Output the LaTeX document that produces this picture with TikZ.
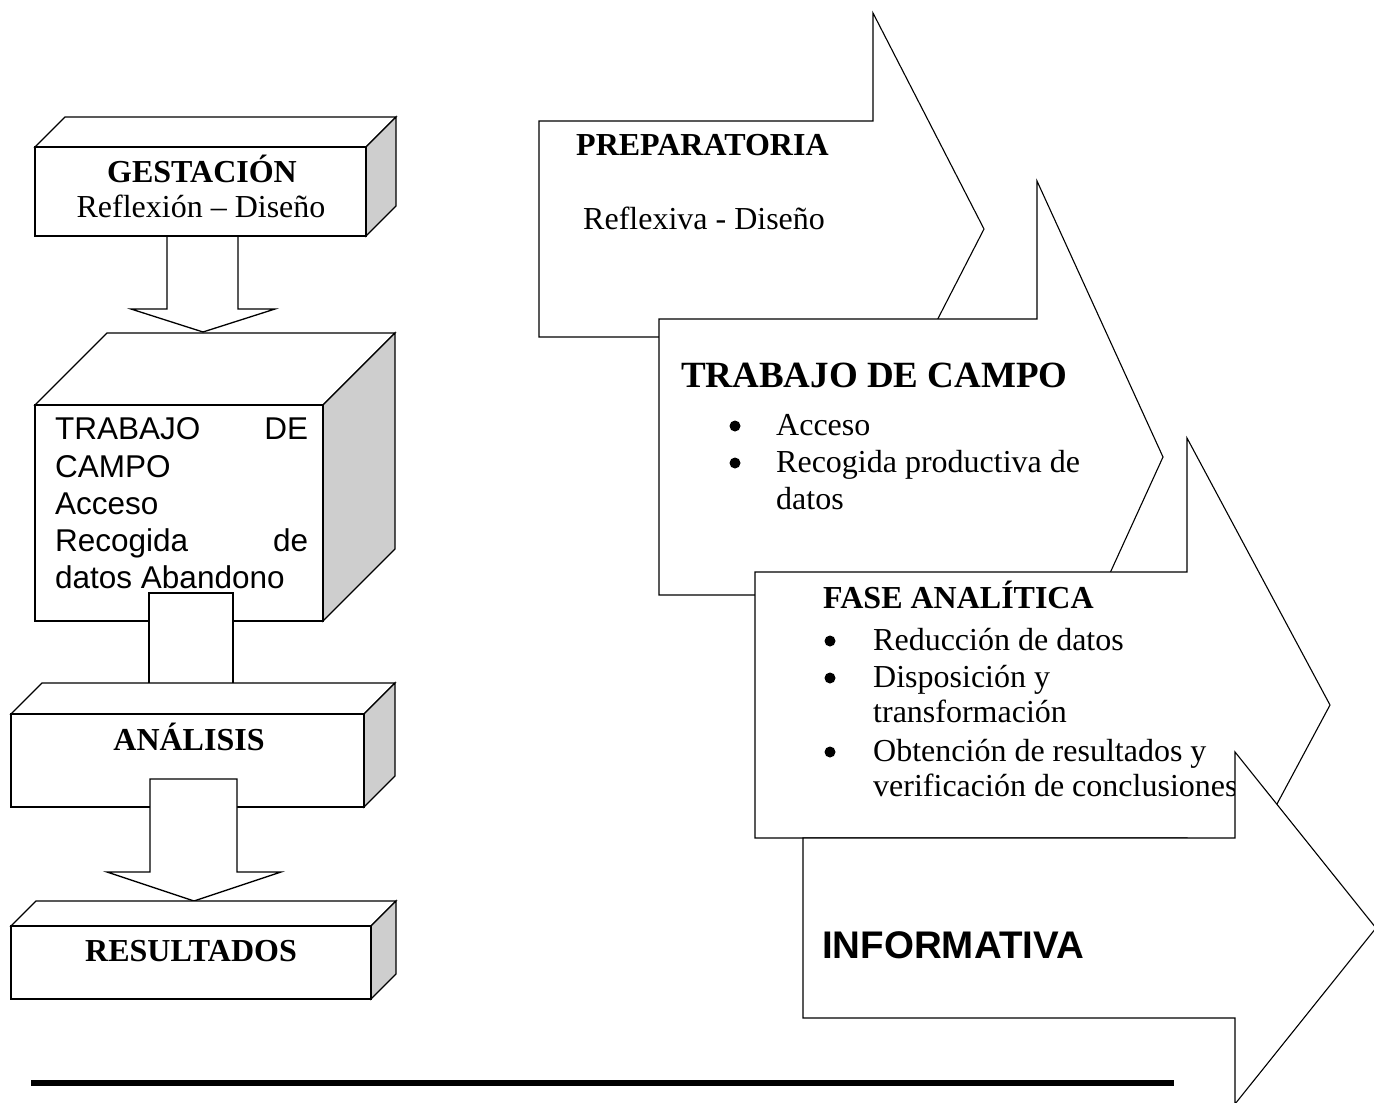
\documentclass[tikz,border=0pt]{standalone}
\usepackage{fontspec}
\setmainfont{Liberation Serif}
\newfontfamily\arialf{Liberation Sans}
\definecolor{sidegray}{RGB}{206,206,206}
\tikzset{
  box/.style={draw, line width=1.3pt, fill=white, line join=miter},
  side/.style={draw, line width=1.3pt, fill=sidegray, line join=miter},
  blk/.style={draw, line width=1.1pt, fill=white, line join=miter},
  lbl/.style={inner sep=0pt, anchor=base west},
  clbl/.style={inner sep=0pt, anchor=base},
  dot/.style={circle, fill=black, inner sep=0pt, minimum size=11pt},
  tnr/.style={font=\fontsize{32}{38}\selectfont},
  tnrb/.style={font=\fontsize{32}{38}\selectfont\bfseries},
  tnrbig/.style={font=\fontsize{37}{44}\selectfont\bfseries},
  ari/.style={font=\arialf\fontsize{31.5}{37}\selectfont},
  arib/.style={font=\arialf\fontsize{38.5}{46}\selectfont\bfseries},
}
\newcommand\cubebox[5]{%
  \fill[white] (#1,#2) rectangle (#3,#4);
  \draw[box] (#1,#2) -- (#1+#5,#2-#5) -- (#3+#5,#2-#5) -- (#3,#2) -- cycle;
  \draw[side] (#3,#2) -- (#3+#5,#2-#5) -- (#3+#5,#4-#5) -- (#3,#4) -- cycle;
  \draw[box] (#1,#2) rectangle (#3,#4);
}
\newcommand\downblk[7]{%
  \draw[box] (#1,#3) -- (#1,#4) -- (#5,#4) -- ({(#5+#6)/2},#7) -- (#6,#4) -- (#2,#4) -- (#2,#3) -- cycle;
}
\newcommand\rblk[7]{%
  \draw[blk] (#1,#2) -- (#4,#2) -- (#4,#5) -- (#6,{(#2+#3)/2}) -- (#4,#7) -- (#4,#3) -- (#1,#3) -- cycle;
}
\begin{document}
\begin{tikzpicture}[x=1pt,y=-1pt]
\useasboundingbox (0,0) rectangle (1374,1103);
\fill[white] (0,0) rectangle (1374,1103);

% ---------- left column ----------
\downblk{167}{238}{236}{309}{131}{275}{332}
\cubebox{35}{147}{366}{236}{30}
\node[clbl,tnrb] (gest) at (202,182) {GESTACIÓN};
\node[clbl,tnr] (gestsub) at (201,217) {Reflexión – Diseño};

\cubebox{35}{405}{323}{621}{72}
\node[lbl,ari] (tc1) at (55,439) {\hbox to 253pt{TRABAJO\hfill DE}};
\node[lbl,ari] (tc2) at (55,477) {CAMPO};
\node[lbl,ari] (tc3) at (55,514) {Acceso};
\node[lbl,ari] (tc4) at (55,551) {\hbox to 253pt{Recogida\hfill de}};
\node[lbl,ari] (tc5) at (55,588) {datos Abandono};

\fill[white] (150,594) rectangle (232,682);
\draw[box] (149,683) -- (149,593) -- (233,593) -- (233,683);

\cubebox{11}{714}{364}{807}{31}
\node[clbl,tnrb] (anal) at (189,750) {ANÁLISIS};
\downblk{150}{237}{779}{872}{107}{281}{901}

\cubebox{11}{926}{371}{999}{25}
\node[clbl,tnrb] (resu) at (191,961) {RESULTADOS};

% ---------- right column ----------
\rblk{539}{121}{337}{873}{13}{984}{445}
\node[lbl,tnrb] (prep) at (576,155) {PREPARATORIA};
\node[lbl,tnr] (prepsub) at (583,229) {Reflexiva - Diseño};

\rblk{659}{319}{595}{1037}{181}{1163}{733}
\node[lbl,tnrbig] (trab) at (681,387) {TRABAJO DE CAMPO};
\node[dot] (tb1) at (735,426) {};
\node[lbl,tnr] (tt1) at (776,435) {Acceso};
\node[dot] (tb2) at (735,463) {};
\node[lbl,tnr] (tt2) at (776,472) {Recogida productiva de};
\node[lbl,tnr] (tt3) at (776,509) {datos};

\rblk{755}{572}{838}{1187}{438}{1330}{972}
\node[lbl,tnrb] (fase) at (823,608) {FASE ANALÍTICA};
\node[dot] (fb1) at (830,641) {};
\node[lbl,tnr] (ft1) at (873,650) {Reducción de datos};
\node[dot] (fb2) at (830,678) {};
\node[lbl,tnr] (ft2) at (873,687) {Disposición y};
\node[lbl,tnr] (ft3) at (873,722) {transformación};
\node[dot] (fb3) at (830,752) {};
\node[lbl,tnr] (ft4) at (873,761) {Obtención de resultados y};
\node[lbl,tnr] (ft5) at (873,796) {verificación de conclusiones};

\rblk{803}{838}{1018}{1235}{752}{1376}{1104}
\node[lbl,arib] (info) at (822,958) {INFORMATIVA};

% ---------- bottom rule ----------
\coordinate (ruleA) at (31,1083);
\coordinate (ruleB) at (1174,1083);
\draw[line width=5.5pt] (ruleA) -- (ruleB);
\end{tikzpicture}
\end{document}
